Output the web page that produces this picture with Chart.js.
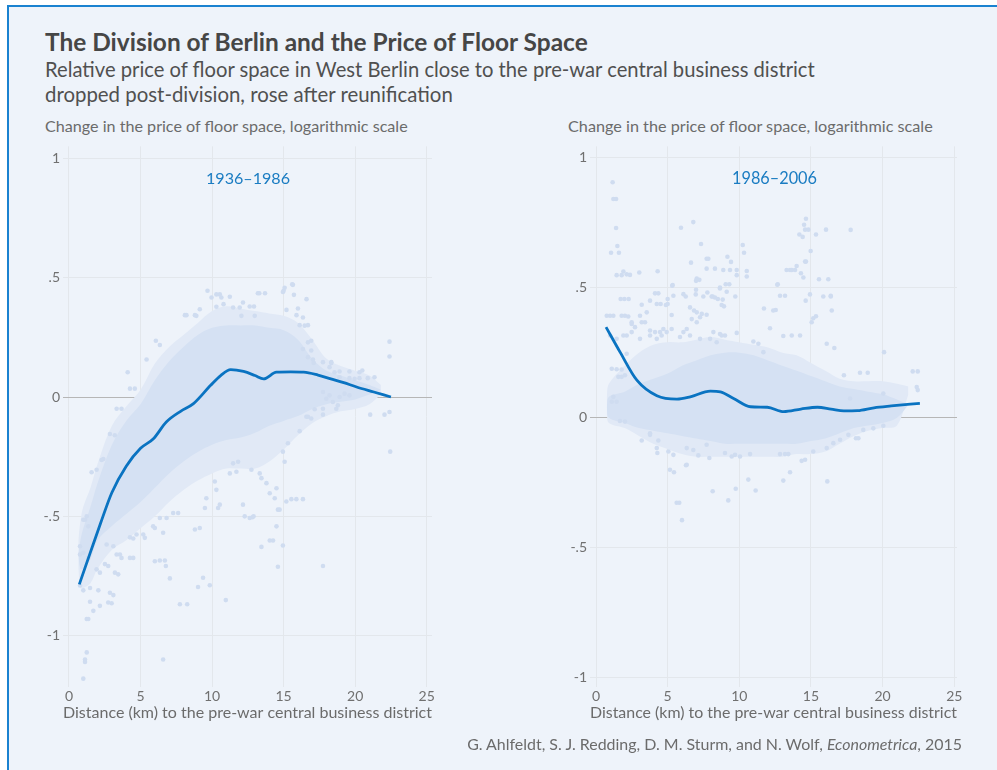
<!DOCTYPE html>
<html><head><meta charset="utf-8">
<script src="https://cdn.jsdelivr.net/npm/chart.js@4.4.1/dist/chart.umd.min.js"></script>
<style>
html,body{margin:0;padding:0;background:#fff;width:997px;height:770px;overflow:hidden;font-family:Lato,sans-serif;}
#frame{position:absolute;left:7px;top:5px;width:1200px;height:900px;background:#eef3fa;border-left:2px solid #1a82d0;border-top:2px solid #1a82d0;}
.t{position:absolute;white-space:nowrap;line-height:1;z-index:2;}
.box{position:absolute;z-index:1;}
</style></head><body>
<div id="frame"></div>
<div class="t" style="left:45px;font-weight:700;color:#464646;font-size:21px" data-w="543" data-b="52">The Division of Berlin and the Price of Floor Space</div>
<div class="t" style="left:45px;color:#505050;font-size:18px" data-w="770" data-b="77">Relative price of floor space in West Berlin close to the pre-war central business district</div>
<div class="t" style="left:45px;color:#505050;font-size:18px" data-w="408" data-b="102">dropped post-division, rose after reunification</div>
<div class="t" style="left:45px;color:#6b6b6b;font-size:14px" data-w="363" data-b="132">Change in the price of floor space, logarithmic scale</div>
<div class="t" style="left:568px;color:#6b6b6b;font-size:14px" data-w="365" data-b="132">Change in the price of floor space, logarithmic scale</div>
<div class="t" style="color:#1a7cc2;font-size:16px" data-w="84" data-b="184" data-cx="248">1936–1986</div>
<div class="t" style="color:#1a7cc2;font-size:16px" data-w="85" data-b="184" data-cx="774.5">1986–2006</div>
<div class="t" style="color:#6b6b6b;font-size:14px" data-w="495" data-b="750" data-r="962">G. Ahlfeldt, S. J. Redding, D. M. Sturm, and N. Wolf, <i>Econometrica</i>, 2015</div>
<div class="box" style="left:20px;top:135px;width:430px;height:600px"><canvas id="c1" width="430" height="600"></canvas></div>
<div class="box" style="left:545px;top:135px;width:430px;height:600px"><canvas id="c2" width="430" height="600"></canvas></div>
<script>
// ---------- data ----------
const xTicks = [0, 5, 10, 15, 20, 25];
const yTicks = [-1, -0.5, 0, 0.5, 1];
const xTitle = 'Distance (km) to the pre-war central business district';

// Panel 1: 1936–1986
const p1LineX = [0.72, 1.5, 2.2, 3.0, 4.0, 5.0, 5.9, 6.8, 7.8, 8.7, 9.9, 10.6, 11.3, 12.2, 13.0, 13.6, 14.5, 15.5, 16.4, 17.4, 18.3, 19.2, 20.1, 21.3, 22.5];
const p1LineY = [-0.785, -0.65, -0.53, -0.4, -0.29, -0.215, -0.175, -0.105, -0.06, -0.028, 0.049, 0.09, 0.115, 0.107, 0.09, 0.076, 0.104, 0.105, 0.104, 0.092, 0.076, 0.06, 0.042, 0.021, 0.0];
const p1BandX   = [0.65, 0.8, 1, 1.5, 2, 3, 4, 5, 6, 7, 8, 9, 10, 11, 12, 13, 14, 15, 16, 17, 18, 19, 20, 21, 21.8];
const p1CoreHi  = [-0.66, -0.6, -0.55, -0.46, -0.36, -0.2, -0.1, -0.03, 0.07, 0.15, 0.21, 0.26, 0.29, 0.3, 0.3, 0.3, 0.29, 0.28, 0.24, 0.16, 0.11, 0.09, 0.07, 0.05, 0.03];
const p1CoreLo  = [-0.66, -0.72, -0.72, -0.68, -0.6, -0.54, -0.49, -0.44, -0.38, -0.32, -0.27, -0.23, -0.2, -0.18, -0.17, -0.15, -0.12, -0.1, -0.08, -0.05, -0.03, -0.02, -0.01, 0.01, 0.03];
const p1OuterHi = [-0.6, -0.52, -0.46, -0.38, -0.28, -0.12, -0.04, 0.03, 0.14, 0.21, 0.26, 0.31, 0.36, 0.38, 0.37, 0.36, 0.35, 0.34, 0.31, 0.24, 0.16, 0.13, 0.11, 0.09, 0.05];
const p1OuterLo = [-0.72, -0.8, -0.8, -0.78, -0.72, -0.64, -0.6, -0.55, -0.5, -0.44, -0.39, -0.35, -0.32, -0.3, -0.3, -0.3, -0.27, -0.22, -0.16, -0.11, -0.08, -0.06, -0.05, -0.03, 0.01];
const p1Points = [[9.68,.445],[9.96,.417],[10.54,.43],[11.24,.42],[13.3,.435],[13.7,.435],[15.0,.445],[15.65,.47],[15.72,.428],[16.6,.41],[8.1,.343],[8.8,.343],[9.14,.368],[6.07,.236],[6.35,.218],[5.42,.157],[4.1,.104],[4.26,.035],[4.6,.035],[17.75,.146],[18.33,.143],[22.4,.232],[22.4,.17],[15.2,.365],[15.9,.343],[16.35,.333],[12.63,.379],[12.16,.396],
[3.33,-.049],[3.67,-.049],[8.21,.343],[8.9,.34],[10.3,.43],[10.65,.417],[10.3,.378],[10.8,.389],[11.47,.375],[11.93,.375],[12.05,.34],[12.98,.34],
[2.86,-.155],[3.2,-.16],[1.58,-.315],[2.4,-.26],[1.12,-.514],[1.24,-.5],[0.77,-.625],[9.14,-.549],[8.8,-.555],[7.28,-.486],[7.63,-.486],[6.35,-.507],[6.82,-.507],[10.42,-.465],[10.54,-.451],[12.16,-.451],[12.82,-.504],[12.63,-.507],[11.47,-.278],[11.82,-.271],[12.75,-.305],[10.3,-.389],[10.19,-.354],[9.6,-.424],[9.5,-.465],[5.19,-.576],[6.0,-.549],
[0.77,-.79],[1.0,-.81],[1.47,-.8],[2.05,-.81],[2.86,-.82],[3.1,-.83],[1.47,-.858],[1.7,-.896],[2.16,-.875],[2.74,-.861],[2.98,-.864],[1.24,-.93],[1.35,-.93],[1.24,-1.07],[1.12,-1.1],[1.12,-1.11],[1.0,-1.18],[6.58,-1.1],[7.75,-.868],[8.26,-.868],[9.37,-.757],[9.84,-.789],[9.02,-.796],[10.96,-.851],[7.05,-.76],[13.45,-.628],[14.03,-.601],[14.26,-.601],[14.95,-.622],[14.6,-.711],[17.75,-.708],[14.5,-.542],[14.6,-.472],[14.72,-.472],[15.19,-.438],[15.54,-.428],[15.89,-.428],[16.35,-.428],[12.28,-.5],[12.9,-.5],[16.59,-.083],[17.17,-.051],[17.75,-.049],[17.75,-.074],[16.12,-.143],[21.05,-.074],[22.05,-.074],[22.4,-.063],[22.45,-.229],[15.07,-.271],[14.95,-.229],[15.3,-.194],[13.45,-.34],[13.8,-.361],[13.33,-.32],[14.5,-.382],[14.03,-.403],[14.38,-.424],[11.24,-.32],[11.7,-.313],[5.88,-.542],[6.58,-.569],[6.0,-.688],[6.35,-.685],[6.7,-.685],[6.77,-.708],[4.26,-.588],[4.49,-.593],[4.72,-.576],[5.3,-.59],[3.33,-.66],[3.56,-.66],[3.67,-.674],[4.26,-.674],[4.49,-.674],[2.51,-.70],[2.74,-.708],[3.21,-.736],[3.44,-.743],[2.63,-.618],[3.1,-.625],[1.93,-.722],[2.16,-.736],[0.77,-.66],[1.0,-.653],[1.35,-.674],[1.0,-.514],[1.35,-.542],[1.93,-.305],[2.28,-.264],
[13.2,.435],[15.07,.458],[15.6,.472],[14.95,.44],[12.93,.379],[16.0,.371],[16.7,.301],[16.47,.299],[16.12,.301],[16.93,.236],[16.7,.229],[16.35,.201],[16.93,.195],[16.7,.167],[17.05,.157],[17.1,.143],[18.33,.146],[18.21,.125],[18.56,.104],[18.91,.107],[19.6,.107],[20.3,.104],[20.5,.111],[18.91,.083],[19.6,.079],[19.96,.076],[20.3,.079],[20.88,.079],[21.35,.083],[17.75,.021],[18.21,.007],[18.91,0],[19.26,.014],[19.6,.007],[17.98,-.007],[18.44,-.021],[18.79,-.035],[18.68,-.049],[16.7,-.083],[16.93,-.09]];

// Panel 2: 1986–2006
const p2LineX = [0.7, 1.68, 2.85, 4.25, 5.65, 6.58, 7.98, 8.68, 9.6, 10.78, 11.95, 13.1, 14.3, 15.45, 16.4, 17.3, 18.25, 19.4, 20.6, 22.6];
const p2LineY = [0.348, 0.252, 0.144, 0.084, 0.071, 0.08, 0.102, 0.099, 0.074, 0.042, 0.04, 0.023, 0.033, 0.04, 0.033, 0.026, 0.027, 0.038, 0.045, 0.055];
const p2BandX   = [0.75, 0.9, 2, 3, 4, 5, 6, 7, 8, 9, 10, 11, 12, 13, 14, 15, 16, 17, 18, 19, 20, 21, 21.8];
const p2CoreHi  = [0.04, 0.08, 0.1, 0.13, 0.15, 0.17, 0.2, 0.22, 0.24, 0.25, 0.25, 0.24, 0.22, 0.2, 0.18, 0.16, 0.14, 0.12, 0.11, 0.1, 0.09, 0.07, 0.05];
const p2CoreLo  = [0.04, 0.0, -0.02, -0.04, -0.05, -0.06, -0.07, -0.08, -0.09, -0.1, -0.1, -0.1, -0.1, -0.1, -0.1, -0.09, -0.08, -0.06, -0.04, -0.03, -0.02, 0.0, 0.05];
const p2OuterHi = [0.08, 0.13, 0.2, 0.25, 0.28, 0.29, 0.29, 0.3, 0.31, 0.3, 0.29, 0.28, 0.27, 0.25, 0.24, 0.21, 0.18, 0.15, 0.14, 0.14, 0.14, 0.13, 0.12];
const p2OuterLo = [0.01, -0.02, -0.04, -0.07, -0.1, -0.12, -0.14, -0.15, -0.15, -0.15, -0.15, -0.15, -0.15, -0.15, -0.14, -0.14, -0.13, -0.1, -0.07, -0.05, -0.04, -0.03, 0.09];
const p2Points = [[1.16,.905],[1.21,.841],[1.4,.841],[1.4,.729],[1.49,.66],[1.05,.634],[1.6,.634],[1.44,.548],[1.79,.548],[1.91,.562],[2.14,.551],[2.37,.549],[3.02,.558],[4.3,.563],[1.72,.456],[1.98,.456],[2.28,.456],[5.93,.73],[6.79,.752],[7.33,.668],[6.63,.596],[7.72,.611],[7.84,.611],[7.72,.573],[8.3,.573],[7.03,.535],[7.21,.53],[6.98,.526],[5.32,.507],[6.1,.475],[6.26,.466],[6.98,.492],[6.96,.474],[7.77,.481],[8.14,.466],[8.5,.456],[8.65,.497],[8.84,.454],[9.17,.619],[9.42,.599],[8.88,.568],[9.35,.568],[9.82,.568],[9.05,.513],[9.3,.513],[10.24,.664],[10.33,.634],[9.82,.548],[10.52,.564],[10.52,.543],[13.3,.568],[13.54,.568],[12.68,.513],[8.93,.428],[9.72,.466],[3.19,.434],[3.77,.45],[4.12,.478],[4.35,.478],[5.0,.456],
[14.65,.765],[14.52,.742],[14.59,.723],[14.82,.723],[14.19,.704],[14.42,.695],[15.35,.704],[16.05,.723],[17.77,.722],[14.98,.641],[14.59,.6],[14.65,.6],[13.66,.568],[13.89,.568],[14.0,.583],[14.3,.555],[14.47,.539],[15.56,.532],[16.21,.532],[14.93,.474],[14.63,.45],[15.86,.466],[16.38,.466],
[5.35,.51],[12.65,.511],[16.38,.469],[16.45,.412],[16.1,.284],[16.63,.268],[20.1,.252],[22.1,.178],[22.45,.178],[22.38,.118],[22.45,.106],[20.05,.093],[17.3,.163],[17.73,.074],[18.42,.173],[18.96,.173],[15.16,.382],[15.35,.39],[15.05,.367],[13.07,.314],[13.66,.316],[14.24,.316],[12.84,.469],[13.19,.469],[12.54,.414],[12.37,.412],[11.72,.42],[12.14,.344],[10.98,.293],[11.33,.284],[11.68,.252],[9.82,.326],[9.0,.316],[8.65,.322],[9.12,.484],[8.65,.5],[7.49,.466],[8.07,.466],[8.3,.462],[8.77,.433],[7.72,.396],[6.56,.424],[6.84,.412],[7.03,.367],[7.38,.399],[5.4,.469],[5.0,.437],[5.28,.395],[4.24,.437],[4.51,.437],[4.88,.433],[3.54,.405],[3.07,.392],[3.19,.367],[2.49,.36],[0.75,.392],[0.98,.392],[1.21,.392],[1.79,.392],[2.02,.392],[2.25,.389],[0.98,.316],[1.44,.303],[1.1,.188],[1.44,.186],[1.79,.185],[1.56,.157],[2.02,.163],[2.14,.316],[2.49,.367],[3.07,.303],[3.77,.316],[4.12,.329],[4.47,.329],[4.7,.341],[8.19,.329],[7.96,.303],[8.42,.29],[8.77,.316],[6.1,.329],[6.56,.316],[7.26,.303],
[3.19,-.088],[4.24,-.117],[4.28,-.136],[5.05,-.13],[5.16,-.2],[5.44,-.21],[6.28,-.183],[5.63,-.327],[5.81,-.327],[6.0,-.394],[7.14,-.145],[7.91,-.155],[8.14,-.283],[9.0,-.136],[9.7,-.143],[9.23,-.318],[9.75,-.273],[10.63,-.238],[11.14,-.28],[13.07,-.242],[13.54,-.21],[14.35,-.166],[14.59,-.162],[16.14,-.245],[12.84,-.14],[13.19,-.14],[13.42,-.14],[18.14,-.079],[18.31,-.079],[17.61,-.066],[20.05,-.031],[19.35,-.041],[18.65,-.047],[1.67,-.013],[2.02,-.015],[3.77,-.066],[4.35,-.088],[6.33,-.117],[6.79,-.124],[7.72,-.104],[9.47,-.149],[10.05,-.149],[10.75,-.14],[15.16,-.13],[16.1,-.117],[16.56,-.098],[17.03,-.085],
[1.21,.08],[1.44,.061],[1.1,.061],[3.77,-.06],[5.4,-.143],[6.33,-.181],[2.49,.329],[2.72,.348],[3.42,.367],[3.77,.335],[4.24,.303],[4.58,.316],[4.93,.329],[5.28,.341],[1.91,.316],[2.14,.246],[1.79,.157],[5.86,.31],[6.33,.341],[6.68,.379],[7.03,.405],[7.26,.386]];

// ---------- text layout ----------
document.querySelectorAll('.t').forEach(el => {
  const tw = +el.dataset.w;
  const fs0 = parseFloat(el.style.fontSize);
  const w = el.getBoundingClientRect().width;
  const fs = fs0 * tw / w;
  el.style.fontSize = fs + 'px';
  const r = el.getBoundingClientRect();
  el.style.top = (+el.dataset.b - 0.887 * fs) + 'px';
  if (el.dataset.cx) el.style.left = (+el.dataset.cx - r.width / 2) + 'px';
  if (el.dataset.r) el.style.left = (+el.dataset.r - r.width) + 'px';
});
const mctx = document.createElement('canvas').getContext('2d');
mctx.font = '15px Lato';
const xTitleSize = 15 * 373 / mctx.measureText(xTitle).width;

// ---------- charts ----------
const zip = (xs, ys) => xs.map((x, i) => ({x, y: ys[i]}));
const pts = arr => arr.map(p => ({x: p[0], y: p[1]}));
const fmtY = v => v === 0 ? '0' : (v < 0 ? '-' : '') + String(Math.abs(v)).replace(/^0/, '');
const band = (xs, ys, fill, color, order) => ({data: zip(xs, ys), showLine: true, borderWidth: 0, borderColor: 'rgba(0,0,0,0)', pointRadius: 0, tension: 0.35, fill: fill, backgroundColor: color, order: order});

function panel(id, P) {
  new Chart(document.getElementById(id), {
    type: 'scatter',
    data: {datasets: [
      {data: zip(P.lx, P.ly), showLine: true, borderColor: '#0a73c1', borderWidth: 2.8, pointRadius: 0, cubicInterpolationMode: 'monotone', fill: false, order: 0},
      {data: pts(P.points), pointRadius: 2.3, pointBackgroundColor: '#cfdcf0', pointBorderWidth: 0, order: 1},
      band(P.bx, P.coreHi, '+1', '#d5e1f3', 2),
      band(P.bx, P.coreLo, false, 'rgba(0,0,0,0)', 2),
      band(P.bx, P.outerHi, '+1', '#e1e9f6', 3),
      band(P.bx, P.outerLo, false, 'rgba(0,0,0,0)', 3)
    ]},
    options: {
      responsive: false, animation: false, events: [],
      plugins: {legend: {display: false}, tooltip: {enabled: false}},
      layout: {padding: {left: P.padL, right: 18, top: 8, bottom: 13}},
      scales: {
        x: {type: 'linear', min: -0.419, max: P.xmax,
          afterFit(s) { s.height = 35; },
          afterBuildTicks(s) { s.ticks = xTicks.map(v => ({value: v})); },
          grid: {color: '#e3e7ec', drawTicks: false}, border: {display: false},
          ticks: {padding: 1, color: '#707070', font: {family: 'Lato', size: 14}, callback: v => String(v)},
          title: {display: true, text: xTitle, color: '#6b6b6b', font: {family: 'Lato', size: xTitleSize}, padding: 0}},
        y: {min: P.ymin, max: P.ymax,
          afterFit(s) { s.width = 33; },
          afterBuildTicks(s) { s.ticks = yTicks.map(v => ({value: v})); },
          grid: {color: c => (c.tick && c.tick.value === 0) ? '#b6b6b6' : '#e3e7ec', drawTicks: false}, border: {display: false},
          ticks: {padding: 3, color: '#707070', font: {family: 'Lato', size: 14}, callback: v => fmtY(v)}}
      }
    }
  });
}
panel('c1', {lx: p1LineX, ly: p1LineY, bx: p1BandX, coreHi: p1CoreHi, coreLo: p1CoreLo, outerHi: p1OuterHi, outerLo: p1OuterLo, points: p1Points, padL: 10, xmax: 25.37, ymin: -1.215, ymax: 1.05});
panel('c2', {lx: p2LineX, ly: p2LineY, bx: p2BandX, coreHi: p2CoreHi, coreLo: p2CoreLo, outerHi: p2OuterHi, outerLo: p2OuterLo, points: p2Points, padL: 12, xmax: 25.19, ymin: -1.0355, ymax: 1.043});
</script>
</body></html>
